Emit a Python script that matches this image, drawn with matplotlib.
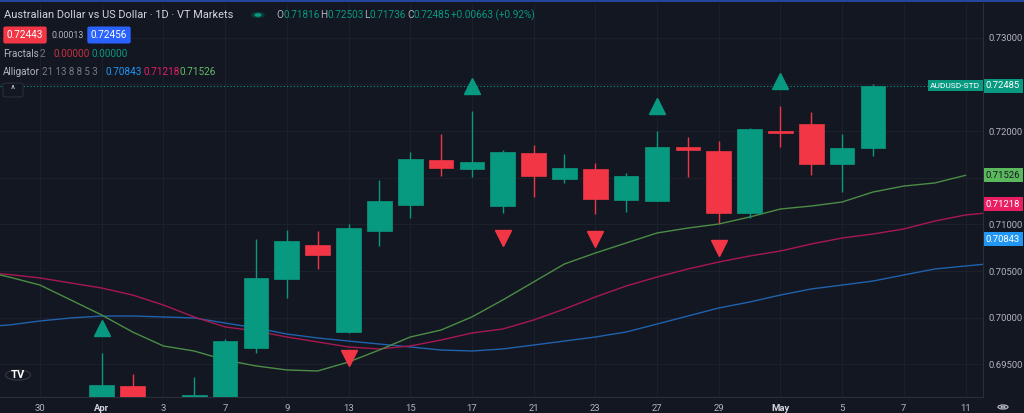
import matplotlib.pyplot as plt
from matplotlib import transforms
from matplotlib.patches import Circle, FancyBboxPatch
from matplotlib.lines import Line2D

# daily candles, index 0 = Mar 30 (first bars sit below the visible range)
opens = [0.6905, 0.6880, 0.6900, 0.69268, 0.6898, 0.6905, 0.6912, 0.69676, 0.70415, 0.70779,
         0.69847, 0.70929, 0.71208, 0.71690, 0.71594, 0.71197, 0.71765, 0.71487, 0.71594, 0.71262,
         0.71251, 0.71830, 0.71787, 0.71122, 0.72001, 0.72076, 0.71648, 0.71816]
highs = [0.6912, 0.6910, 0.69622, 0.69397, 0.6912, 0.69365, 0.69772, 0.70844, 0.70940, 0.70929,
         0.71004, 0.71476, 0.71776, 0.71969, 0.72216, 0.71798, 0.71851, 0.71755, 0.71658, 0.71551,
         0.72001, 0.71937, 0.71894, 0.72033, 0.72269, 0.72205, 0.71969, 0.72503]
lows = [0.6870, 0.6865, 0.6890, 0.6885, 0.6880, 0.6895, 0.6905, 0.69622, 0.70211, 0.70522,
        0.69835, 0.70768, 0.71069, 0.71519, 0.71508, 0.71122, 0.71294, 0.71444, 0.71111, 0.71133,
        0.71251, 0.71508, 0.71015, 0.71069, 0.71830, 0.71530, 0.71347, 0.71736]
closes = [0.6880, 0.6900, 0.69279, 0.6895, 0.6905, 0.69172, 0.69750, 0.70425, 0.70822, 0.70672,
          0.70961, 0.71251, 0.71701, 0.71605, 0.71669, 0.71776, 0.71519, 0.71605, 0.71272, 0.71519,
          0.71830, 0.71797, 0.71122, 0.72022, 0.71979, 0.71648, 0.71819, 0.72485]
last_change = 0.00663
last_change_pct = 0.92
bid, spread, ask = 0.72443, 0.00013, 0.72456

fractal_up = [2, 14, 20, 24]
fractal_down = [10, 15, 18, 22]

# alligator lines (shifted forward), all start at bar index -2
alligator_start = -2
jaw = [0.69900, 0.69922, 0.69965, 0.69997, 0.70018, 0.70018, 0.70008, 0.69997, 0.69943, 0.69890,
       0.69825, 0.69783, 0.69750, 0.69718, 0.69686, 0.69654, 0.69643, 0.69665, 0.69707, 0.69750,
       0.69793, 0.69847, 0.69932, 0.70018, 0.70104, 0.70168, 0.70243, 0.70308, 0.70350, 0.70393,
       0.70458, 0.70522, 0.70554, 0.70586, 0.70651, 0.70715, 0.70779, 0.70843]
teeth = [0.70490, 0.70463, 0.70426, 0.70372, 0.70318, 0.70243, 0.70136, 0.70008, 0.69901, 0.69858,
         0.69793, 0.69740, 0.69686, 0.69665, 0.69697, 0.69761, 0.69836, 0.69879, 0.69975, 0.70093,
         0.70222, 0.70340, 0.70436, 0.70522, 0.70597, 0.70661, 0.70715, 0.70790, 0.70854, 0.70897,
         0.70951, 0.71036, 0.71101, 0.71133, 0.71218]
lips = [0.70511, 0.70436, 0.70350, 0.70190, 0.70029, 0.69847, 0.69697, 0.69643, 0.69547, 0.69483,
        0.69440, 0.69429, 0.69525, 0.69654, 0.69793, 0.69868, 0.70008, 0.70190, 0.70383, 0.70576,
        0.70693, 0.70801, 0.70908, 0.70961, 0.71004, 0.71079, 0.71165, 0.71197, 0.71240, 0.71347,
        0.71411, 0.71444, 0.71526]

date_ticks = [0, 2, 4, 6, 8, 10, 12, 14, 16, 18, 20, 22, 24, 26, 28, 30]
date_labels = ["30", "Apr", "3", "7", "9", "13", "15", "17", "21", "23", "27", "29", "May", "5", "7", "11"]
price_ticks = [0.695, 0.700, 0.705, 0.710, 0.715, 0.720, 0.725, 0.730]
# 0.715 and 0.725 are hidden behind the price tags in the original
price_labels = ["0.69500", "0.70000", "0.70500", "0.71000", "", "0.72000", "", "0.73000"]

BG = "#131722"
UP = "#089981"
DOWN = "#F23645"
TXT = "#B2B5BE"
GRID = "#1c202b"
FONT = ["Roboto", "DejaVu Sans"]
plt.rcParams["font.family"] = FONT

W, H = 1024, 413
fig = plt.figure(figsize=(W / 100, H / 100), dpi=100, facecolor=BG)
ax = fig.add_axes([0, 16 / H, 983 / W, (397 - 3) / H])
ax.set_facecolor(BG)


def px(x, y):
    return x / W, 1 - y / H


# candles
for i in range(len(opens)):
    o, h, l, c = opens[i], highs[i], lows[i], closes[i]
    col = UP if c >= o else DOWN
    ax.vlines(i, l, h, color=col, linewidth=1, zorder=3)
    ax.bar(i, max(abs(c - o), 0.00002), bottom=min(o, c), width=0.8, color=col,
           edgecolor=col, linewidth=0.5, zorder=4)

# alligator
ax.plot(range(alligator_start, alligator_start + len(jaw)), jaw, color="#1f62ad", lw=1, zorder=2)
ax.plot(range(alligator_start, alligator_start + len(teeth)), teeth, color="#a8174f", lw=1, zorder=2)
ax.plot(range(alligator_start, alligator_start + len(lips)), lips, color="#4b8d45", lw=1, zorder=2)

# fractals
up_tr = transforms.offset_copy(ax.transData, fig=fig, y=18, units="points")
dn_tr = transforms.offset_copy(ax.transData, fig=fig, y=-18, units="points")
ax.plot(fractal_up, [highs[i] for i in fractal_up], "^", ms=11, color=UP, mec=UP,
        transform=up_tr, zorder=5, clip_on=False)
ax.plot(fractal_down, [lows[i] for i in fractal_down], "v", ms=11, color=DOWN, mec=DOWN,
        transform=dn_tr, zorder=5, clip_on=False)

# last price line
ax.axhline(closes[-1], color=UP, lw=0.8, ls=(0, (1, 2)), zorder=1)

ax.set_xlim(-1.2966, 30.567)
ax.set_ylim(0.691501, 0.733730)
ax.set_xticks(date_ticks)
ax.set_xticklabels(date_labels)
ax.set_yticks(price_ticks)
ax.set_yticklabels(price_labels)
ax.yaxis.tick_right()
ax.tick_params(axis="both", length=0, colors=TXT, labelsize=6.8)
ax.tick_params(axis="x", pad=5)
ax.tick_params(axis="y", pad=4)
for lab in ax.get_xticklabels():
    if lab.get_text() in ("Apr", "May"):
        lab.set_fontweight("bold")
        lab.set_color("#D1D4DC")
ax.grid(True, color=GRID, lw=0.8)
ax.set_axisbelow(True)
for s in ("top", "left"):
    ax.spines[s].set_visible(False)
for s in ("bottom", "right"):
    ax.spines[s].set_color("#2a2e39")
    ax.spines[s].set_linewidth(0.8)

# price tags on the right scale
blend = transforms.blended_transform_factory(fig.transFigure, ax.transData)
tag_style = dict(va="center", ha="left", transform=blend, zorder=10, clip_on=False)
for val, col, tc in [(lips[-1], "#5cb85c", "#131722"), (teeth[-1], "#E91E63", "white"),
                     (jaw[-1], "#2196F3", "white")]:
    ax.text(986 / W, val, f"{val:.5f}", color=tc, fontsize=6.8,
            bbox=dict(boxstyle="square,pad=0.25", fc=col, ec="none"), **tag_style)
ax.text(930 / W, closes[-1], "AUDUSD-STD", color="white", fontsize=6.0,
        bbox=dict(boxstyle="square,pad=0.3", fc=UP, ec="none"), **tag_style)
ax.text(986 / W, closes[-1], f"{closes[-1]:.5f}", color="white", fontsize=6.8,
        bbox=dict(boxstyle="square,pad=0.25", fc=UP, ec="none"), **tag_style)

# header legend
hs = 7.2
fig.text(*px(4, 15), "Australian Dollar vs US Dollar · 1D · VT Markets", color="#D1D4DC",
         fontsize=7.9, va="center")
fig.add_artist(Circle(px(258, 15), 6 / W, transform=fig.transFigure, color="#0b3a33"))
fig.add_artist(Circle(px(258, 15), 2.8 / W, transform=fig.transFigure, color=UP))
ohlc = [("O", 276, 283, opens[-1]), ("H", 320, 327, highs[-1]),
        ("L", 364, 370, lows[-1]), ("C", 407, 413, closes[-1])]
for k, xk, xv, v in ohlc:
    fig.text(*px(xk, 15), k, color=TXT, fontsize=hs, va="center")
    fig.text(*px(xv, 15), f"{v:.5f}", color=UP, fontsize=hs, va="center")
fig.text(*px(451, 15), f"+{last_change:.5f} (+{last_change_pct:.2f}%)", color=UP, fontsize=hs, va="center")

fig.text(*px(25, 35), f"{bid:.5f}", color="white", fontsize=hs, va="center", ha="center",
         bbox=dict(boxstyle="round,pad=0.35,rounding_size=0.2", fc=DOWN, ec="none"))
fig.text(*px(52, 35), f"{spread:.5f}", color=TXT, fontsize=hs - 0.8, va="center")
fig.text(*px(109, 35), f"{ask:.5f}", color="white", fontsize=hs, va="center", ha="center",
         bbox=dict(boxstyle="round,pad=0.35,rounding_size=0.2", fc="#2962FF", ec="none"))

fig.text(*px(3, 54), "Fractals", color=TXT, fontsize=hs, va="center")
fig.text(*px(40, 54), "2", color="#787B86", fontsize=hs, va="center")
fig.text(*px(54, 54), "0.00000", color="#c8303f", fontsize=hs, va="center")
fig.text(*px(92, 54), "0.00000", color=UP, fontsize=hs, va="center")

fig.text(*px(3, 72), "Alligator", color=TXT, fontsize=hs, va="center")
fig.text(*px(42, 72), "21 13 8 8 5 3", color="#787B86", fontsize=hs - 0.2, va="center")
fig.text(*px(106, 72), f"{jaw[-1]:.5f}", color="#2196F3", fontsize=hs, va="center")
fig.text(*px(143, 72), f"{teeth[-1]:.5f}", color="#E91E63", fontsize=hs, va="center")
fig.text(*px(180, 72), f"{lips[-1]:.5f}", color="#66BB6A", fontsize=hs, va="center")

bx, by = px(3, 97)
fig.add_artist(FancyBboxPatch((bx, by), 20 / W, 14 / H, boxstyle="round,pad=0,rounding_size=0.004",
                              transform=fig.transFigure, fc=BG, ec="#2a2e39", lw=0.8))
fig.text(*px(13, 90), "^", color="#D1D4DC", fontsize=7, va="center", ha="center")

# logo, gear and top border
fig.add_artist(Circle(px(18, 375), 12.5 / W, transform=fig.transFigure, fc="#131722", ec="#363a45", lw=0.8))
fig.text(*px(18, 375), "TV", color="white", fontsize=8, fontweight="bold", va="center", ha="center")
fig.add_artist(Circle(px(1003, 407), 5 / W, transform=fig.transFigure, fc="none", ec=TXT, lw=0.9))
fig.add_artist(Circle(px(1003, 407), 2 / W, transform=fig.transFigure, fc="none", ec=TXT, lw=0.8))
fig.add_artist(Line2D([0, 1], [1 - 1 / H, 1 - 1 / H], transform=fig.transFigure, color="#2a4fb5", lw=1.2))

fig.savefig("out.png", dpi=100, facecolor=BG)
